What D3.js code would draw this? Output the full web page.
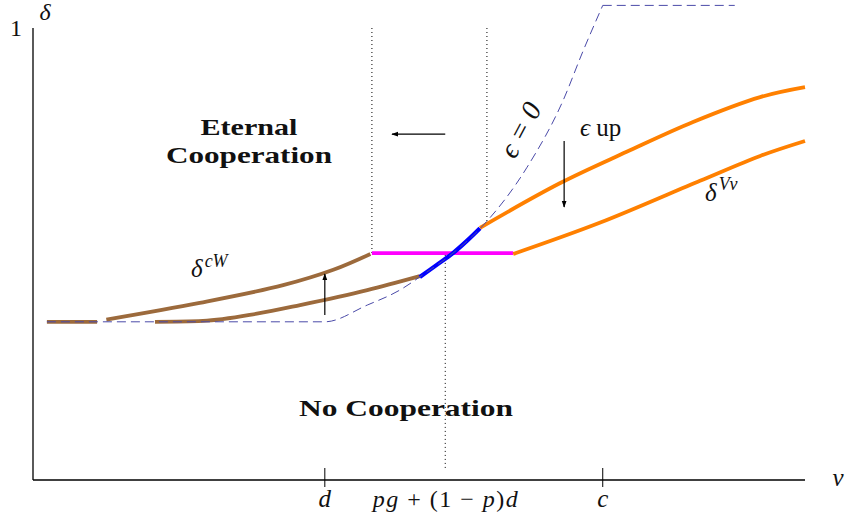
<!DOCTYPE html>
<head>
  <meta charset="utf-8">
  <script src="https://d3js.org/d3.v7.min.js"></script>
  <style>
  body { margin: 0; background: #fff; }
  path.curve { fill: none; }
  text { font-family: "Liberation Serif", "DejaVu Serif", serif; fill: #111; }
  .math { font-style: italic; }
  .bold { font-weight: bold; }
</style>
</head>
<body>
<svg width="845" height="520"></svg>

<script type="text/javascript">
// Data (v on a 0..10 scale, delta 0..1)
var xTicks = [3.78, 7.38];
var xTickLabels = ["d", "c"];
var midV = 5.34;   // pg + (1-p)d

var epsZero = [[0.18, 0.35], [3.78, 0.35], [4.33, 0.387], [4.75, 0.42], [5.05, 0.454],
  [5.44, 0.502], [5.79, 0.556], [6.40, 0.692], [6.87, 0.841], [7.12, 0.947], [7.38, 1.05]];
var epsZeroTop = [[7.38, 1.05], [9.09, 1.05]];

var brownFlat = [[0.18, 0.35], [0.83, 0.35]];
var brownUpper = [[0.95, 0.355], [2.16, 0.392], [3.24, 0.431], [3.89, 0.465], [4.37, 0.5]];
var brownLower = [[1.58, 0.35], [2.2, 0.352], [2.9, 0.368], [3.46, 0.387], [4.33, 0.42], [5.01, 0.451]];
var blueCurve = [[5.01, 0.449], [5.23, 0.476], [5.44, 0.502], [5.62, 0.529], [5.79, 0.557]];
var magentaLine = [[4.39, 0.502], [6.22, 0.502]];
var orangeUpper = [[5.79, 0.558], [6.83, 0.657], [7.69, 0.726], [8.55, 0.792], [9.42, 0.847], [10, 0.869]];
var orangeLower = [[6.22, 0.5], [7.34, 0.569], [8.64, 0.662], [9.42, 0.717], [10, 0.75]];

var dottedLines = [[4.39, 1.0, 0.502], [5.88, 1.0, 0.564], [midV, 0.498, 0.022]];

var svg = d3.select("svg");

var x = d3.scaleLinear().domain([0, 10]).range([33, 805]);
var y = d3.scaleLinear().domain([0, 1]).range([480, 28]);

var line = d3.line()
    .x(function(d) { return x(d[0]); })
    .y(function(d) { return y(d[1]); });
var mono = d3.line()
    .curve(d3.curveMonotoneX)
    .x(function(d) { return x(d[0]); })
    .y(function(d) { return y(d[1]); });
var smooth = d3.line()
    .curve(d3.curveCatmullRom.alpha(0.5))
    .x(function(d) { return x(d[0]); })
    .y(function(d) { return y(d[1]); });

// arrow marker
svg.append("defs").append("marker")
    .attr("id", "head")
    .attr("viewBox", "0 0 10 10")
    .attr("refX", 9).attr("refY", 5)
    .attr("markerWidth", 6).attr("markerHeight", 6)
    .attr("markerUnits", "strokeWidth")
    .attr("orient", "auto")
  .append("path")
    .attr("d", "M0,1.5 L10,5 L0,8.5 z")
    .attr("fill", "#000");

// axes
svg.append("line").attr("x1", x(0)).attr("x2", x(10)).attr("y1", y(0)).attr("y2", y(0))
    .attr("stroke", "#000").attr("stroke-width", 1.3);
svg.append("line").attr("x1", x(0)).attr("x2", x(0)).attr("y1", y(0)).attr("y2", y(1))
    .attr("stroke", "#000").attr("stroke-width", 1.3);

xTicks.forEach(function(v, i) {
  svg.append("line").attr("x1", x(v)).attr("x2", x(v)).attr("y1", y(0) - 12).attr("y2", y(0) + 7)
      .attr("stroke", "#000").attr("stroke-width", 1);
  svg.append("text").attr("class", "math").attr("x", x(v)).attr("y", 507)
      .attr("text-anchor", "middle").style("font-size", "25px").text(xTickLabels[i]);
});
var midLabel = svg.append("text").attr("x", x(midV)).attr("y", 507)
    .attr("text-anchor", "middle").style("font-size", "24px")
    .attr("textLength", 145).attr("lengthAdjust", "spacing");
midLabel.append("tspan").attr("class", "math").text("pg");
midLabel.append("tspan").text(" + (1 − ");
midLabel.append("tspan").attr("class", "math").text("p");
midLabel.append("tspan").text(")");
midLabel.append("tspan").attr("class", "math").text("d");

svg.append("text").attr("class", "math").attr("x", 838).attr("y", 486)
    .attr("text-anchor", "middle").style("font-size", "25px").text("v");
svg.append("text").attr("class", "math").attr("x", 45).attr("y", 20)
    .attr("text-anchor", "middle").style("font-size", "24px").text("δ");
svg.append("text").attr("x", 16).attr("y", 36)
    .attr("text-anchor", "middle").style("font-size", "24px").text("1");

// dotted guides
dottedLines.forEach(function(d) {
  svg.append("line").attr("x1", x(d[0])).attr("x2", x(d[0])).attr("y1", y(d[1])).attr("y2", y(d[2]))
      .attr("stroke", "#000").attr("stroke-width", 1).attr("stroke-dasharray", "1,3");
});

// coloured curves
function curve(data, color, width, gen) {
  svg.append("path").datum(data).attr("class", "curve")
      .attr("d", gen || smooth)
      .attr("stroke", color).attr("stroke-width", width);
}
curve(brownFlat, "#9c6a3c", 3.8, line);
curve(brownUpper, "#9c6a3c", 3.8);
curve(brownLower, "#9c6a3c", 3.8, mono);
curve(magentaLine, "#ff00ff", 3.8, line);
curve(orangeUpper, "#ff8000", 3.8);
curve(orangeLower, "#ff8000", 3.8);
curve(blueCurve, "#0000ff", 4.2);

// epsilon = 0 boundary
svg.append("path").datum(epsZero).attr("class", "curve").attr("d", mono)
    .attr("stroke", "#4a4aa8").attr("stroke-width", 1).attr("stroke-dasharray", "9,5");
svg.append("path").datum(epsZeroTop).attr("class", "curve").attr("d", line)
    .attr("stroke", "#4a4aa8").attr("stroke-width", 1).attr("stroke-dasharray", "9,5");

// arrows
function arrow(x1, y1, x2, y2) {
  svg.append("line").attr("x1", x(x1)).attr("y1", y(y1)).attr("x2", x(x2)).attr("y2", y(y2))
      .attr("stroke", "#000").attr("stroke-width", 1.2).attr("marker-end", "url(#head)");
}
arrow(5.34, 0.765, 4.65, 0.765);
arrow(6.88, 0.75, 6.88, 0.604);
arrow(3.78, 0.365, 3.78, 0.456);

// region labels
svg.append("text").attr("class", "bold").attr("x", 249).attr("y", 135).attr("text-anchor", "middle")
    .style("font-size", "23px").attr("textLength", 97).attr("lengthAdjust", "spacingAndGlyphs").text("Eternal");
svg.append("text").attr("class", "bold").attr("x", 249).attr("y", 163).attr("text-anchor", "middle")
    .style("font-size", "23px").attr("textLength", 166).attr("lengthAdjust", "spacingAndGlyphs").text("Cooperation");
svg.append("text").attr("class", "bold").attr("x", 406).attr("y", 416).attr("text-anchor", "middle")
    .style("font-size", "23px").attr("textLength", 214).attr("lengthAdjust", "spacingAndGlyphs").text("No Cooperation");

// curve labels
var cw = svg.append("text").attr("x", 191).attr("y", 277).style("font-size", "25px");
cw.append("tspan").attr("class", "math").text("δ");
cw.append("tspan").attr("class", "math").attr("dy", -10).attr("dx", 2).style("font-size", "18px").text("cW");

var vv = svg.append("text").attr("x", 705).attr("y", 201).style("font-size", "25px");
vv.append("tspan").attr("class", "math").text("δ");
vv.append("tspan").attr("class", "math").attr("dy", -11).attr("dx", 2).style("font-size", "18px").text("Vv");

var eu = svg.append("text").attr("x", 580).attr("y", 136).style("font-size", "25px");
eu.append("tspan").attr("class", "math").text("ϵ");
eu.append("tspan").text(" up");

svg.append("text").attr("transform", "translate(" + x(6.42) + "," + y(0.765) + ") rotate(-62)")
    .attr("text-anchor", "middle").style("font-size", "28px")
    .text("ϵ = 0").attr("class", "math");
</script>

</body>
</html>
